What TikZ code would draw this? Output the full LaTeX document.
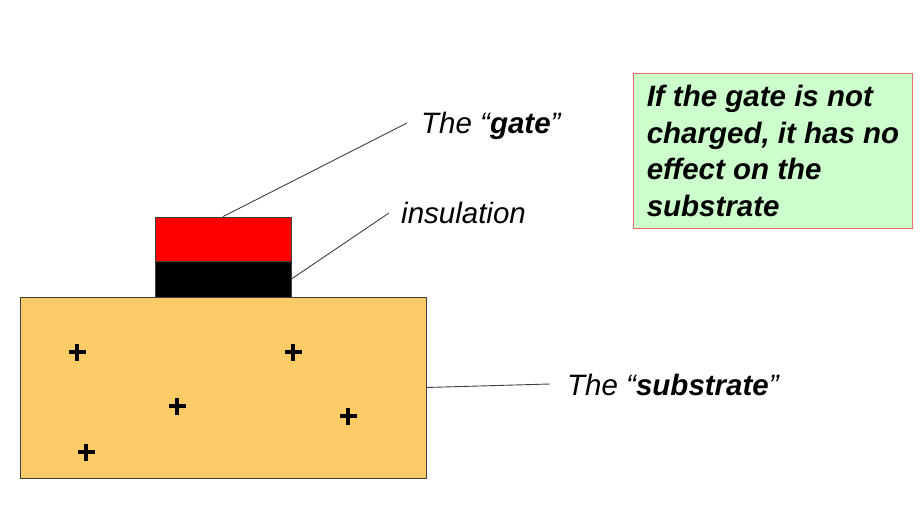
\documentclass[tikz,border=0pt]{standalone}
\usepackage{xcolor}
\usepackage{fontspec}
\usepackage{tikz}
\setmainfont{Liberation Sans}
\definecolor{substrateOrange}{HTML}{FFCB66}
\definecolor{gateRed}{HTML}{FF0000}
\definecolor{noteGreen}{HTML}{CCFFCC}
\definecolor{noteBorder}{HTML}{F26B6B}
\definecolor{edgeGray}{HTML}{404040}
\tikzset{
  layer/.style={draw=edgeGray, line width=0.8pt, inner sep=0pt, minimum width=136pt},
  leader/.style={edgeGray, line width=0.9pt},
  lbl/.style={font=\fontsize{29.5}{34}\selectfont\itshape, inner sep=0pt, anchor=base west},
  charge/.style={line width=3.4pt, black},
  note/.style={draw=noteBorder, fill=noteGreen, line width=1pt, anchor=north west,
    minimum width=279pt, minimum height=155pt, inner xsep=12pt, inner ysep=0pt,
    align=left, font=\fontsize{29.5}{36.7}\selectfont\bfseries\itshape},
}

\begin{document}
\begin{tikzpicture}[x=1pt, y=-1pt]
  \useasboundingbox (0,0) rectangle (923,526);
  % layers
  \node[layer, fill=substrateOrange, minimum width=406pt, minimum height=181pt] (substrate) at (223,387.5) {};
  \node[layer, fill=black, minimum height=36pt] (insul) at (223,279) {};
  \node[layer, fill=gateRed, minimum height=44pt] (gate) at (223,239) {};
  % charges
  \foreach \cx/\cy in {77/352, 293/352, 177/406, 348/416, 86/452} {
    \draw[charge] (\cx-8.5,\cy) -- (\cx+8.5,\cy);
    \draw[charge] (\cx,\cy-8.5) -- (\cx,\cy+8.5);
  }
  % labels
  \node[lbl] (gatelbl) at (421,134) {The “\textbf{gate}”};
  \node[lbl] (insullbl) at (401,224) {insulation};
  \node[lbl] (sublbl) at (567,395) {The “\textbf{substrate}”};
  \coordinate (gatetip) at (407,123);
  \coordinate (insultip) at (389,213);
  \coordinate (subtip) at (550,384);
  \draw[leader] (gate.north) -- (gatetip);
  \draw[leader] (insul.east) -- (insultip);
  \draw[leader] (substrate.east) -- (subtip);
  % note
  \node[note] (note) at (633,73) {If the gate is not\\ charged, it has no\\ effect on the\\ substrate};
\end{tikzpicture}
\end{document}
